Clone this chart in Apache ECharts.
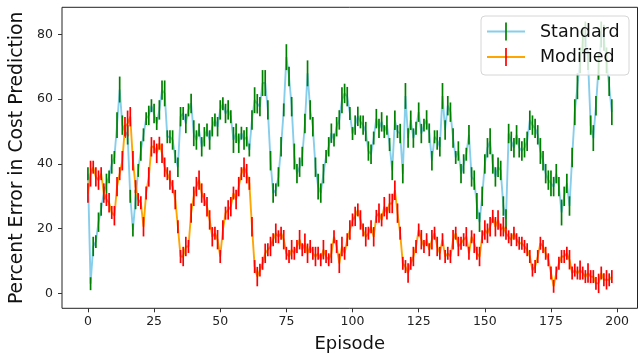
<!DOCTYPE html>
<html>
<head>
<meta charset="utf-8">
<script src="https://cdn.jsdelivr.net/npm/echarts@6/dist/echarts.min.js"></script>
<style>
  html, body { margin: 0; padding: 0; background: #fff; }
  #chart { width: 639px; height: 354px; }
</style>
</head>
<body>
<div id="chart"></div>
<script>
// episodes 0..198
const standard = [
  37, 3, 14.5, 16, 22, 26, 31, 34, 36, 40,
  42, 52, 63, 52, 50, 49, 30, 19.6, 29, 38,
  44, 49, 54, 55, 58, 55.6, 52.5, 56.7, 62.8, 61.8,
  48.4, 48.4, 47.4, 42.3, 39, 54.6, 55.6, 52.5, 56.7, 58.7,
  49.5, 47.4, 50.5, 45.3, 48.4, 50.5, 47.4, 51.5, 53.6, 51.5,
  56.7, 58.6, 55.6, 56.7, 54.6, 47.4, 49.5, 46.4, 49.5, 47.4,
  48.4, 44.3, 53.6, 59.7, 58.6, 57.7, 65, 65, 56.7, 41,
  31, 32, 36, 45.3, 56.7, 73, 67, 57.7, 42.3, 37,
  39, 42.3, 52.5, 68, 56.7, 51.5, 39, 33, 31, 37,
  42.3, 45.3, 49.5, 47.4, 51.5, 53.6, 59.7, 61.8, 60.8, 55.6,
  49.4, 52, 54.7, 53, 52, 50, 44, 43, 48, 54,
  51, 53, 50, 52, 46, 38, 53.5, 50, 49.4, 37,
  61, 48, 53.5, 48, 51, 56, 49.4, 52, 53.6, 49.5,
  41, 48.4, 47.4, 45.3, 61, 50.5, 58, 56, 48, 42,
  44, 37, 40, 43, 49, 36, 35, 27, 22, 30,
  40, 45, 47, 40, 36, 39, 38, 27, 23, 49.4,
  47, 45, 49, 45, 44, 45, 47, 53.5, 52, 51,
  49, 44, 41, 37, 35, 34, 33, 37, 33, 25,
  30, 34, 27, 42, 56, 64, 72, 78, 80, 72,
  52, 48, 58, 70, 80, 79, 72, 64, 56
];
const standardErr = [
  2, 2, 3, 2, 3, 2, 2, 3, 2, 3,
  2, 4, 4, 3, 2, 3, 2, 2, 3, 2,
  3, 2, 2, 3, 2, 3, 2, 3, 3, 4,
  2, 2, 3, 2, 3, 3, 2, 3, 2, 3,
  4, 3, 2, 3, 3, 2, 3, 3, 2, 3,
  3, 2, 3, 3, 2, 4, 3, 3, 2, 3,
  3, 2, 3, 4, 3, 3, 4, 4, 3, 3,
  3, 2, 3, 3, 2, 4, 3, 3, 4, 3,
  3, 3, 3, 4, 3, 3, 3, 4, 3, 3,
  2, 3, 3, 2, 3, 3, 4, 3, 3, 2,
  2, 3, 3, 2, 3, 3, 3, 3, 2, 3,
  3, 3, 2, 3, 2, 3, 3, 2, 3, 3,
  4, 3, 3, 3, 2, 3, 3, 2, 3, 3,
  3, 2, 3, 3, 4, 3, 3, 3, 3, 2,
  3, 3, 3, 2, 3, 3, 3, 4, 3, 3,
  3, 3, 4, 3, 3, 3, 3, 3, 3, 3,
  3, 3, 3, 3, 3, 3, 3, 3, 3, 3,
  3, 4, 3, 3, 3, 4, 3, 3, 3, 4,
  3, 3, 3, 3, 4, 4, 4, 4, 4, 3,
  3, 4, 3, 4, 4, 4, 4, 3, 4
];
const modified = [
  31, 37, 39, 36, 35, 37, 31, 29, 28, 25,
  24, 33, 37, 41, 51.5, 52.5, 54.6, 41, 33, 29,
  28, 20.6, 31, 36, 45.3, 45.3, 43.3, 46.4, 43.3, 39,
  37, 35, 33, 29, 20.6, 11.4, 11.4, 14.5, 14.5, 24.8,
  30, 33, 35, 31, 29, 26.8, 22.7, 17.5, 18.6, 16.6,
  11.4, 19.6, 24.8, 25.8, 26.8, 31, 29, 33, 37, 39,
  37, 34, 20.6, 8.3, 5.2, 7.2, 9.3, 12.4, 13.5, 14.5,
  16.6, 18.6, 17.5, 18.6, 16.6, 12.4, 11.4, 13.5, 12.4, 14.5,
  16.6, 13.5, 15.5, 12.4, 14.5, 12.4, 11.4, 12.4, 10.4, 13.5,
  11.4, 10.4, 12.4, 17.5, 14.5, 9.3, 14.5, 12.4, 16.6, 19.6,
  22.7, 23.8, 25.8, 22.7, 19.6, 17.5, 18.6, 20.6, 17.5, 23.8,
  24.8, 22.7, 26.8, 24.8, 27.8, 27.8, 31.9, 24.8, 18.6, 9.3,
  8.3, 6.3, 9.3, 11.4, 14.5, 19.6, 16.6, 14.5, 16.6, 13.5,
  16.6, 18.6, 14.5, 12.4, 16.6, 11.4, 12.4, 11.4, 16.6, 18.6,
  14.5, 15.5, 16.6, 17.5, 12.4, 17.5, 15.5, 12.4, 11.4, 17.5,
  19.6, 18.6, 20.6, 23.8, 20.6, 22.7, 19.6, 20.6, 18.6, 17.5,
  16.6, 18.6, 16.6, 15.5, 15.5, 14.5, 13.5, 11.4, 7.2, 8.3,
  11.4, 15.5, 14.5, 12.4, 10.4, 6.3, 2.2, 6.3, 9.3, 11.4,
  11.4, 12.4, 10.4, 6.3, 7.2, 6.3, 7.2, 6.3, 5.2, 6.3,
  5.2, 5.2, 3.1, 3.1, 6.3, 4.2, 4.2, 4.2, 5.2
];
const modifiedErr = [
  3, 4, 2, 3, 3, 2, 3, 2, 3, 2,
  3, 3, 2, 3, 3, 4, 3, 3, 2, 2,
  2, 3, 2, 3, 3, 2, 3, 2, 3, 3,
  2, 3, 2, 3, 2, 2, 3, 3, 2, 3,
  3, 3, 3, 3, 2, 3, 3, 3, 2, 3,
  2, 3, 2, 3, 3, 2, 3, 3, 2, 3,
  3, 2, 3, 2, 3, 2, 2, 3, 2, 3,
  2, 3, 2, 2, 3, 2, 2, 3, 2, 2,
  3, 2, 3, 3, 2, 2, 3, 2, 2, 3,
  2, 2, 3, 2, 2, 3, 3, 2, 2, 3,
  2, 3, 2, 3, 2, 3, 2, 2, 3, 2,
  3, 2, 3, 2, 3, 3, 3, 3, 2, 2,
  2, 3, 2, 3, 2, 2, 3, 2, 2, 2,
  3, 2, 3, 2, 2, 2, 2, 2, 3, 2,
  3, 2, 2, 3, 2, 2, 3, 2, 3, 2,
  3, 3, 3, 2, 3, 3, 2, 3, 2, 2,
  2, 2, 2, 2, 2, 2, 2, 2, 2, 2,
  2, 2, 2, 2, 2, 2, 2, 2, 2, 2,
  2, 2, 3, 2, 2, 2, 3, 2, 2, 3,
  2, 2, 2, 3, 2, 2, 3, 2, 2
];
const xTicks = [0, 25, 50, 75, 100, 125, 150, 175, 200];
const yTicks = [0, 20, 40, 60, 80];

const FONT = 'DejaVu Sans';

function pairs(vals) {
  return vals.map((v, i) => [i, v]);
}
function bars(vals, errs) {
  return vals.map((v, i) => [i, v - errs[i], v + errs[i]]);
}
function errRender(color) {
  return function (params, api) {
    const x = api.value(0);
    const p1 = api.coord([x, api.value(2)]);
    const p2 = api.coord([x, api.value(1)]);
    return {
      type: 'line',
      shape: { x1: p1[0], y1: p1[1], x2: p2[0], y2: p2[1] },
      style: { stroke: color, lineWidth: 1.7 }
    };
  };
}

const chart = echarts.init(document.getElementById('chart'), null, { renderer: 'canvas' });
chart.setOption({
  animation: false,
  backgroundColor: '#fff',
  grid: {
    left: 62, right: 1.5, top: 7.3, bottom: 45.7,
    outerBoundsMode: 'none',
    containLabel: false,
    show: true, borderColor: '#222', borderWidth: 1, backgroundColor: 'transparent'
  },
  xAxis: {
    type: 'value',
    min: -9.8, max: 207.7,
    name: 'Episode',
    nameLocation: 'middle',
    nameGap: 27,
    nameTextStyle: { fontFamily: FONT, fontSize: 18, color: '#111' },
    axisLine: { show: false, onZero: false },
    axisTick: { show: true, inside: false, length: 4, customValues: xTicks, lineStyle: { color: '#333' } },
    axisLabel: { customValues: xTicks, margin: 7, fontFamily: FONT, fontSize: 12.5, color: '#222' },
    splitLine: { show: false }
  },
  yAxis: {
    type: 'value',
    min: -4.6, max: 88.4,
    name: 'Percent Error in Cost Prediction',
    nameLocation: 'middle',
    nameGap: 26,
    nameTextStyle: { fontFamily: FONT, fontSize: 18.8, color: '#111' },
    axisLine: { show: false, onZero: false },
    axisTick: { show: true, inside: false, length: 4, customValues: yTicks, lineStyle: { color: '#333' } },
    axisLabel: { customValues: yTicks, margin: 9, fontFamily: FONT, fontSize: 12.5, color: '#222' },
    splitLine: { show: false }
  },
  series: [
    {
      name: 'Standard',
      type: 'line',
      data: pairs(standard),
      symbol: 'none',
      lineStyle: { color: '#87CEEB', width: 1.9 },
      z: 2
    },
    {
      name: 'Standard error',
      type: 'custom',
      data: bars(standard, standardErr),
      encode: { x: 0, y: [1, 2] },
      renderItem: errRender('#008000'),
      z: 3
    },
    {
      name: 'Modified',
      type: 'line',
      data: pairs(modified),
      symbol: 'none',
      lineStyle: { color: '#FFA500', width: 1.9 },
      z: 4
    },
    {
      name: 'Modified error',
      type: 'custom',
      data: bars(modified, modifiedErr),
      encode: { x: 0, y: [1, 2] },
      renderItem: errRender('#FF0000'),
      z: 5
    }
  ],
  graphic: [
    {
      type: 'rect', z: 100,
      shape: { x: 481, y: 16, width: 148, height: 59, r: 4 },
      style: { fill: 'rgba(255,255,255,0.8)', stroke: '#d6d6d6', lineWidth: 1 }
    },
    { type: 'line', z: 101, shape: { x1: 487, y1: 31.5, x2: 525, y2: 31.5 }, style: { stroke: '#87CEEB', lineWidth: 1.9 } },
    { type: 'line', z: 102, shape: { x1: 506, y1: 22.5, x2: 506, y2: 40.5 }, style: { stroke: '#008000', lineWidth: 1.7 } },
    { type: 'text', z: 101, style: { x: 540, y: 32, text: 'Standard', fontFamily: FONT, fontSize: 17.5, fill: '#111', verticalAlign: 'middle' } },
    { type: 'line', z: 101, shape: { x1: 487, y1: 57, x2: 525, y2: 57 }, style: { stroke: '#FFA500', lineWidth: 1.9 } },
    { type: 'line', z: 102, shape: { x1: 506, y1: 48, x2: 506, y2: 66 }, style: { stroke: '#FF0000', lineWidth: 1.7 } },
    { type: 'text', z: 101, style: { x: 540, y: 57, text: 'Modified', fontFamily: FONT, fontSize: 17.5, fill: '#111', verticalAlign: 'middle' } }
  ]
});
</script>
</body>
</html>
